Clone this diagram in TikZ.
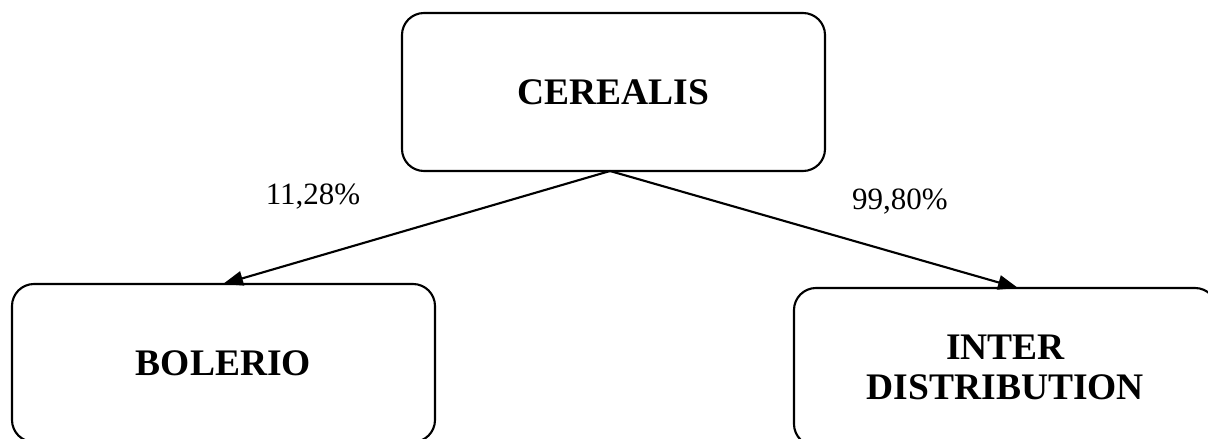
\documentclass[tikz,border=0pt]{standalone}
\usepackage{fontspec}
\setmainfont{Liberation Serif}
\usetikzlibrary{arrows.meta}

\def\boxw{169.2pt}
\def\boxh{63.2pt}

\begin{document}
\begin{tikzpicture}[x=0.4pt,y=-0.4pt,line width=0.85pt]
    \tikzstyle{firm}=[draw,rounded corners=8.8pt,minimum width=\boxw,minimum height=\boxh,inner sep=0pt,align=center,font=\fontsize{15}{16}\selectfont\bfseries]
    \tikzstyle{share}=[-{Triangle[length=8pt,width=5.8pt]}]
    \tikzstyle{pct}=[font=\fontsize{12.4}{14}\selectfont]

    % Fix the page size and cut the boxes at its border
    \useasboundingbox (0,0) rectangle (1208,439);
    \clip (0,0) rectangle (1208,439);

    % Draw the mother company and its two subsidiaries
    \node[firm] (C) at (613.5,92) {CEREALIS};
    \node[firm] (B) at (223.5,363) {BOLERIO};
    \node[firm] (D) at (1005.5,367) {INTER\\DISTRIBUTION};

    % Point where both arrows leave the top box
    \coordinate (C-out) at (610,171);
    \coordinate (B-in) at (223,284);
    \coordinate (D-in) at (1018,288);

    % Connect the mother company with the subsidiaries
    \draw[share] (C-out) -- (B-in);
    \draw[share] (C-out) -- (D-in);

    % Annotate the shares
    \node[pct] (pB) at (313,197) {11,28\%};
    \node[pct] (pD) at (900,202) {99,80\%};
\end{tikzpicture}
\end{document}
